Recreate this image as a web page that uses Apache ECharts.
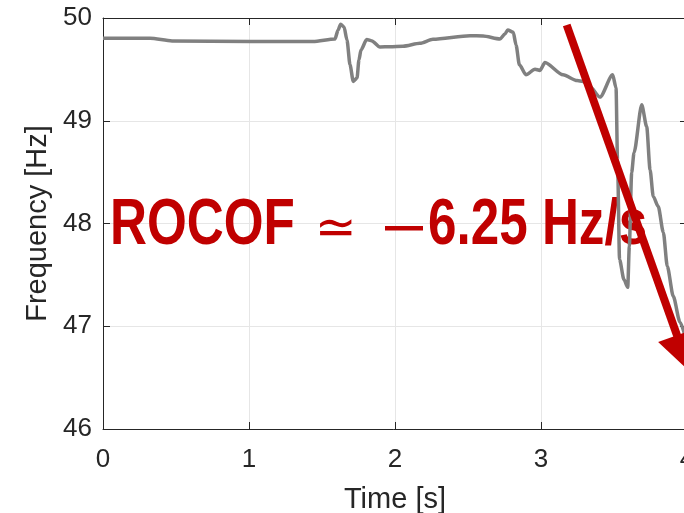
<!DOCTYPE html>
<html>
<head>
<meta charset="utf-8">
<script src="https://cdn.jsdelivr.net/npm/echarts@6/dist/echarts.min.js"></script>
<style>
html,body{margin:0;padding:0;background:#fff;}
#chart{width:684px;height:513px;}
</style>
</head>
<body>
<div id="chart"></div>
<script>
// ---- data ----
var timeS = [0, 0.322, 0.473, 1.007, 1.438, 1.589, 1.610, 1.628, 1.651, 1.671, 1.692, 1.714, 1.740, 1.753, 1.767, 1.806, 1.842, 1.897, 1.966, 2.055, 2.171, 2.260, 2.514, 2.603, 2.719, 2.753, 2.772, 2.810, 2.829, 2.852, 2.897, 2.959, 2.993, 3.027, 3.151, 3.247, 3.288, 3.336, 3.404, 3.491, 3.514, 3.524, 3.538, 3.568, 3.594, 3.605, 3.621, 3.637, 3.690, 3.724, 3.747, 3.769, 3.803, 3.838, 3.865, 3.906, 3.952, 3.993];
var freqHz = [49.803, 49.803, 49.777, 49.772, 49.772, 49.796, 49.883, 49.939, 49.913, 49.786, 49.544, 49.383, 49.417, 49.592, 49.689, 49.791, 49.777, 49.718, 49.721, 49.725, 49.754, 49.793, 49.828, 49.825, 49.796, 49.845, 49.883, 49.861, 49.738, 49.544, 49.447, 49.502, 49.490, 49.566, 49.447, 49.391, 49.382, 49.330, 49.230, 49.447, 49.320, 48.621, 47.650, 47.456, 47.379, 47.777, 48.495, 48.689, 49.155, 48.942, 48.524, 48.262, 48.165, 47.913, 47.583, 47.291, 47.039, 46.874];
var xTicks = [0, 1, 2, 3, 4];
var yTicks = [46, 47, 48, 49, 50];
var arrowStart = [3.176, 49.932];
var arrowEnd = [3.976, 46.734];
var annotationText = {main: 'ROCOF', approx: '\u2243', value: '6.25 Hz/s'};

var pts = timeS.map(function (t, i) { return [t, freqHz[i]]; });

var axisColor = '#262626';
var gridColor = '#e6e6e6';
var font = 'Liberation Sans, Arial, Helvetica, sans-serif';
var red = '#c00000';

var chart = echarts.init(document.getElementById('chart'), null, {renderer: 'canvas'});

function xAxisDef(pos, main) {
  return {
    type: 'value', position: pos,
    min: xTicks[0], max: xTicks[xTicks.length - 1], interval: 1,
    axisLine: {show: true, onZero: false, lineStyle: {color: axisColor, width: 1}},
    axisTick: {show: true, inside: true, length: 7, lineStyle: {color: axisColor}},
    axisLabel: {show: main, fontSize: 26, color: axisColor, fontFamily: font, margin: 18, hideOverlap: false},
    splitLine: {show: main, lineStyle: {color: gridColor, width: 1}},
    name: main ? 'Time [s]' : '',
    nameLocation: 'middle', nameGap: 56,
    nameTextStyle: {fontSize: 29, color: axisColor, fontFamily: font}
  };
}
function yAxisDef(pos, main) {
  return {
    type: 'value', position: pos,
    min: yTicks[0], max: yTicks[yTicks.length - 1], interval: 1,
    axisLine: {show: true, onZero: false, lineStyle: {color: axisColor, width: 1}},
    axisTick: {show: true, inside: true, length: 7, lineStyle: {color: axisColor}},
    axisLabel: {show: main, fontSize: 26, color: axisColor, fontFamily: font, margin: 11},
    splitLine: {show: main, lineStyle: {color: gridColor, width: 1}},
    name: main ? 'Frequency [Hz]' : '',
    nameLocation: 'middle', nameGap: 50, nameRotate: 90,
    nameTextStyle: {fontSize: 29, color: axisColor, fontFamily: font}
  };
}

chart.setOption({
  animation: false,
  backgroundColor: '#ffffff',
  grid: {left: 103, top: 18, width: 584, height: 411, containLabel: false, outerBoundsMode: 'none'},
  xAxis: [xAxisDef('bottom', true), xAxisDef('top', false)],
  yAxis: [yAxisDef('left', true), yAxisDef('right', false)],
  series: [{
    type: 'line',
    data: pts,
    showSymbol: false,
    smooth: 0.25,
    smoothMonotone: 'x',
    z: 3,
    lineStyle: {color: '#808080', width: 3.5},
    markLine: {
      silent: true,
      animation: false,
      symbol: ['none', 'triangle'],
      symbolSize: [40, 39],
      label: {show: false},
      lineStyle: {color: red, width: 8, type: 'solid'},
      data: [[{coord: arrowStart}, {coord: arrowEnd}]]
    }
  }]
});

var o = chart.convertToPixel({xAxisIndex: 0, yAxisIndex: 0}, [0, 48]);
chart.setOption({
  graphic: [{
    type: 'group', x: o[0], y: o[1], z: 1,
    children: [
      {type: 'text', x: 7, y: 3, scaleX: 0.8, z: 1,
       style: {text: annotationText.main, fill: red, font: 'bold 64px ' + font, verticalAlign: 'middle', align: 'left'}},
      {type: 'text', x: 212, y: 8, z: 1,
       style: {text: annotationText.approx, fill: red, font: '50px DejaVu Sans, sans-serif', verticalAlign: 'middle', align: 'left'}},
      {type: 'rect', z: 1, shape: {x: 282, y: 2.5, width: 38, height: 4.5}, style: {fill: red}},
      {type: 'text', x: 325, y: 3, scaleX: 0.8, z: 1,
       style: {text: annotationText.value, fill: red, font: 'bold 64px ' + font, verticalAlign: 'middle', align: 'left'}}
    ]
  }]
});
</script>
</body>
</html>
